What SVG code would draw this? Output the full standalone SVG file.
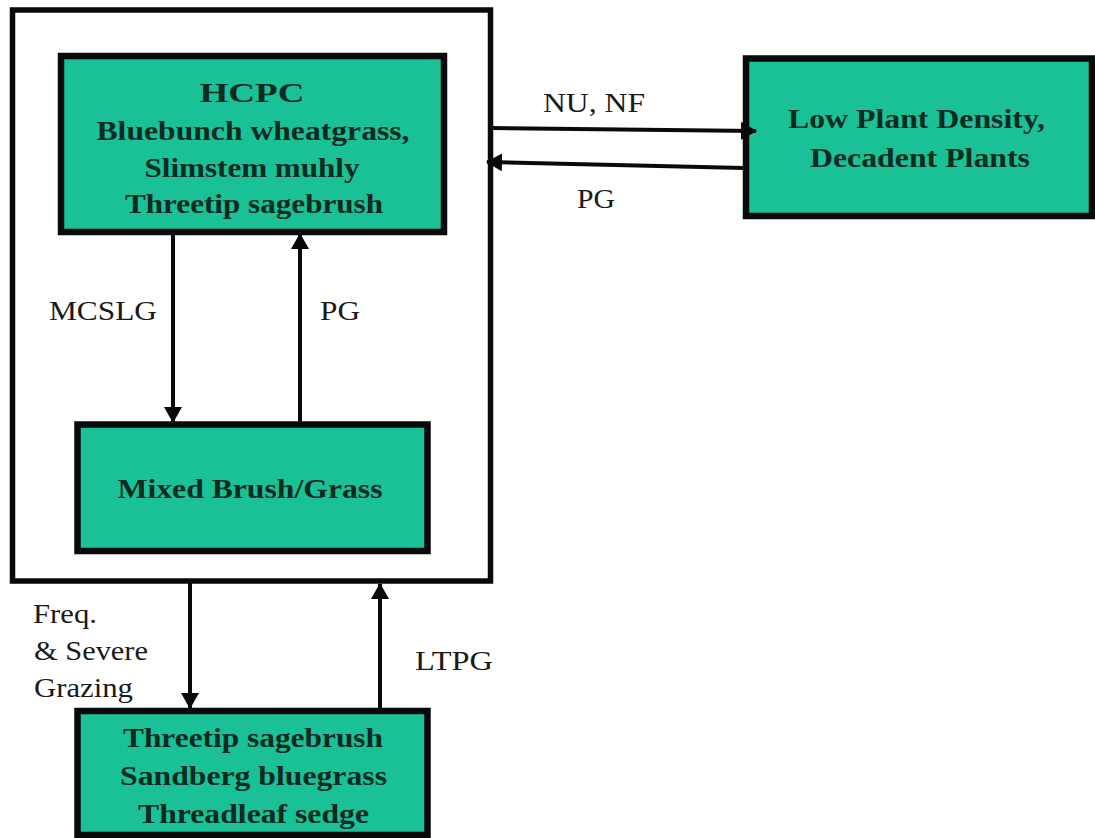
<svg xmlns="http://www.w3.org/2000/svg" width="1095" height="838" viewBox="0 0 1095 838">
<style>
.box{fill:#1ac096;stroke:#0a0a0a;stroke-width:6.5}
.frame{fill:#fff;stroke:#0a0a0a;stroke-width:5.5}
.bt{font-family:"Liberation Serif","Times New Roman",serif;font-weight:bold;font-size:27px;fill:#0f2a20;text-anchor:middle}
.lb{font-family:"Liberation Serif","Times New Roman",serif;font-size:27px;fill:#1a1a1a}
.cn{stroke:#0a0a0a;stroke-width:4;fill:none}
</style>
<defs>
<marker id="ah" markerUnits="userSpaceOnUse" markerWidth="16" markerHeight="18" refX="15" refY="9" orient="auto">
<path d="M0,0 L16,9 L0,18 Z" fill="#0a0a0a"/>
</marker>
</defs>
<rect width="1095" height="838" fill="#fff"/>
<g id="frame">
<rect class="frame" x="12.5" y="10" width="478" height="571"/>
</g>
<g id="hcpc">
<rect class="box" x="61" y="56" width="383" height="176"/>
<text class="bt" x="252" y="102" font-size="34" textLength="105" lengthAdjust="spacingAndGlyphs">HCPC</text>
<text class="bt" x="253" y="140" textLength="313" lengthAdjust="spacingAndGlyphs">Bluebunch wheatgrass,</text>
<text class="bt" x="252" y="177" textLength="215" lengthAdjust="spacingAndGlyphs">Slimstem muhly</text>
<text class="bt" x="254" y="213" textLength="258" lengthAdjust="spacingAndGlyphs">Threetip sagebrush</text>
</g>
<g id="lowdensity">
<rect class="box" x="746" y="58.5" width="346" height="157.5"/>
<text class="bt" x="916.5" y="128" textLength="257" lengthAdjust="spacingAndGlyphs">Low Plant Density,</text>
<text class="bt" x="920" y="167" textLength="220" lengthAdjust="spacingAndGlyphs">Decadent Plants</text>
</g>
<g id="mixed">
<rect class="box" x="77.5" y="424.5" width="350" height="126.5"/>
<text class="bt" x="250" y="498" textLength="265" lengthAdjust="spacingAndGlyphs">Mixed Brush/Grass</text>
</g>
<g id="sagebrush">
<rect class="box" x="77.5" y="711" width="350" height="124"/>
<text class="bt" x="253" y="747" textLength="260" lengthAdjust="spacingAndGlyphs">Threetip sagebrush</text>
<text class="bt" x="253.5" y="785" textLength="267" lengthAdjust="spacingAndGlyphs">Sandberg bluegrass</text>
<text class="bt" x="253.5" y="823" textLength="231" lengthAdjust="spacingAndGlyphs">Threadleaf sedge</text>
</g>
<g id="connectors">
<line class="cn" x1="492" y1="128" x2="756" y2="131" marker-end="url(#ah)"/>
<line class="cn" x1="744" y1="168" x2="487" y2="162" marker-end="url(#ah)"/>
<line class="cn" x1="173" y1="233" x2="173" y2="422" marker-end="url(#ah)"/>
<line class="cn" x1="300" y1="423" x2="300" y2="234" marker-end="url(#ah)"/>
<line class="cn" x1="190" y1="583" x2="190" y2="708" marker-end="url(#ah)"/>
<line class="cn" x1="380" y1="709" x2="380" y2="584" marker-end="url(#ah)"/>
<text class="lb" x="543" y="112" textLength="102" lengthAdjust="spacingAndGlyphs">NU, NF</text>
<text class="lb" x="577" y="208" textLength="38" lengthAdjust="spacingAndGlyphs">PG</text>
<text class="lb" x="49" y="320" textLength="108" lengthAdjust="spacingAndGlyphs">MCSLG</text>
<text class="lb" x="320" y="320" textLength="40" lengthAdjust="spacingAndGlyphs">PG</text>
<text class="lb" x="33" y="623" textLength="64" lengthAdjust="spacingAndGlyphs">Freq.</text>
<text class="lb" x="34" y="660" textLength="114" lengthAdjust="spacingAndGlyphs">&amp; Severe</text>
<text class="lb" x="34" y="697" textLength="99" lengthAdjust="spacingAndGlyphs">Grazing</text>
<text class="lb" x="415" y="670" textLength="78" lengthAdjust="spacingAndGlyphs">LTPG</text>
</g>
</svg>
